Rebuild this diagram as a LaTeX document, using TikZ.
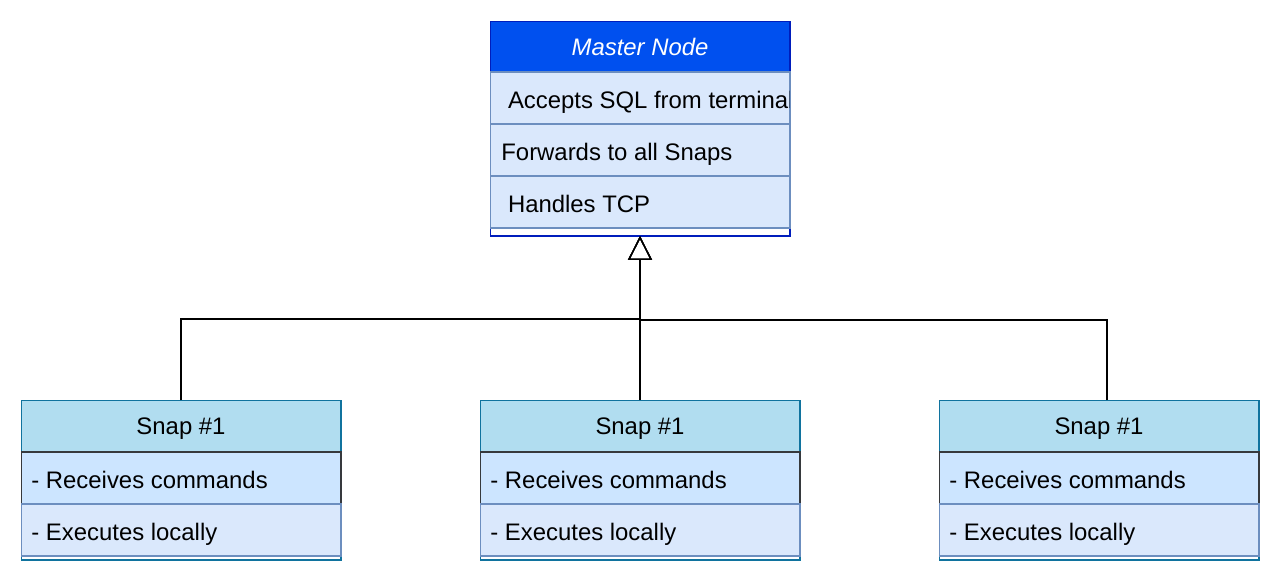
\documentclass[tikz,border=0pt]{standalone}
\usepackage{fontspec}
\setmainfont{Liberation Sans}
\usetikzlibrary{positioning,arrows.meta}
\definecolor{masterblue}{HTML}{0050EF}
\definecolor{masterline}{HTML}{001DBC}
\definecolor{rowfill}{HTML}{DAE8FC}
\definecolor{rowline}{HTML}{6C8EBF}
\definecolor{snapfill}{HTML}{B1DDF0}
\definecolor{snapline}{HTML}{10739E}
\definecolor{cmdfill}{HTML}{CCE5FF}
\definecolor{cmdline}{HTML}{36393D}
\newcommand{\boxfont}{\fontsize{13.6pt}{16pt}\selectfont}
\tikzset{
  box/.style = {draw, line width=0.6pt, inner sep=0pt, outer sep=0pt, font=\boxfont, text height=9.8pt, text depth=0pt},
  masterbox/.style = {box, draw=masterline, fill=white, minimum width=6cm, minimum height=4.3cm},
  masterhead/.style = {box, draw=masterline, fill=masterblue, text=white, font=\boxfont\itshape, minimum width=6cm, minimum height=1.02cm},
  masterrow/.style = {box, draw=rowline, fill=rowfill, minimum width=6cm, minimum height=1.04cm},
  snapbox/.style = {box, draw=snapline, fill=white, minimum width=6.4cm, minimum height=3.2cm},
  snaphead/.style = {box, draw=snapline, fill=snapfill, minimum width=6.4cm, minimum height=1.04cm},
  cmdrow/.style = {box, draw=cmdline, fill=cmdfill, minimum width=6.4cm, minimum height=1.04cm},
  execrow/.style = {box, draw=rowline, fill=rowfill, minimum width=6.4cm, minimum height=1.04cm},
  rowtext/.style = {anchor=west, inner sep=0pt, yshift=-0.04cm, font=\boxfont, text height=9.8pt, text depth=0pt},
  link/.style = {draw=black, line width=0.8pt, -{Triangle[open, length=0.48cm, width=0.48cm]}}
}

\begin{document}
\begin{tikzpicture}[x=0.02cm, y=-0.02cm]
       \useasboundingbox (0,0) rectangle (1280,583);
       % master
       \node[masterbox] (master) at (640,128.5) {};
       \node[masterhead, below=0pt of master.north] (masterhead) {Master Node};
       \node[masterrow, below=0pt of masterhead] (accepts) {};
       \node[masterrow, below=0pt of accepts] (forwards) {};
       \node[masterrow, below=0pt of forwards] (handles) {};
       \begin{scope}
       \clip (accepts.south west) rectangle (accepts.north east);
       \node[rowtext] (acceptstext) at ([xshift=0.22cm]accepts.west) {\ Accepts SQL from terminal};
       \end{scope}
       \node[rowtext] (forwardstext) at ([xshift=0.22cm]forwards.west) {Forwards to all Snaps};
       \node[rowtext] (handlestext) at ([xshift=0.22cm]handles.west) {\ Handles TCP};
       % snaps
       \node[snapbox] (snapA) at (181,480) {};
       \node[snaphead, below=0pt of snapA.north] (snapAhead) {Snap \#1};
       \node[cmdrow, below=0pt of snapAhead] (snapAcmd) {};
       \node[execrow, below=0pt of snapAcmd] (snapAexec) {};
       \node[rowtext] (snapAcmdtext) at ([xshift=0.2cm]snapAcmd.west) {- Receives commands};
       \node[rowtext] (snapAexectext) at ([xshift=0.2cm]snapAexec.west) {- Executes locally};

       \node[snapbox] (snapB) at (640,480) {};
       \node[snaphead, below=0pt of snapB.north] (snapBhead) {Snap \#1};
       \node[cmdrow, below=0pt of snapBhead] (snapBcmd) {};
       \node[execrow, below=0pt of snapBcmd] (snapBexec) {};
       \node[rowtext] (snapBcmdtext) at ([xshift=0.2cm]snapBcmd.west) {- Receives commands};
       \node[rowtext] (snapBexectext) at ([xshift=0.2cm]snapBexec.west) {- Executes locally};

       \node[snapbox] (snapC) at (1099,480) {};
       \node[snaphead, below=0pt of snapC.north] (snapChead) {Snap \#1};
       \node[cmdrow, below=0pt of snapChead] (snapCcmd) {};
       \node[execrow, below=0pt of snapCcmd] (snapCexec) {};
       \node[rowtext] (snapCcmdtext) at ([xshift=0.2cm]snapCcmd.west) {- Receives commands};
       \node[rowtext] (snapCexectext) at ([xshift=0.2cm]snapCexec.west) {- Executes locally};
       % links
       \draw[link] (snapA.north) -- ++(0,-81) -| (master.south);
       \draw[link] (snapB.north) -- (master.south);
       \draw[link] ([xshift=0.16cm]snapC.north) -- ++(0,-80) -| (master.south);
\end{tikzpicture}
\end{document}
